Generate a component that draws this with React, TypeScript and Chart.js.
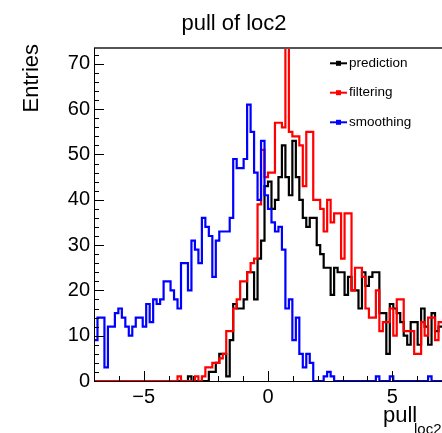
import { useEffect, useRef } from "react";
import { Chart, registerables } from "chart.js";

Chart.register(...registerables);

// Histogram binning: 100 bins on [-7, 7]
const BIN_LO = -7;
const BIN_HI = 7;
const BIN_COUNT = 100;

// Bin contents, bin 0 at the left edge
const prediction = [
  0, 0, 0, 0, 0, 0, 0, 0, 0, 0,
  0, 0, 0, 0, 0, 0, 0, 0, 0, 0,
  0, 0, 0, 0, 0, 0, 0, 1, 0, 0,
  0, 0, 0, 2, 2, 4, 6, 6, 1, 9,
  17, 16, 16, 18, 24, 24, 18, 27, 31, 43,
  44, 38, 40, 45, 52, 45, 41, 53, 45, 40,
  36, 34, 36, 36, 30, 28, 25, 25, 19, 25,
  24, 24, 19, 23, 20, 20, 16, 24, 21, 23,
  24, 24, 15, 15, 6, 17, 16, 15, 13, 10,
  8, 13, 13, 8, 16, 12, 8, 15, 11, 12,
];

const filtering = [
  0, 0, 0, 0, 0, 0, 0, 0, 0, 0,
  0, 0, 0, 0, 0, 0, 0, 0, 0, 0,
  0, 0, 0, 0, 1, 0, 0, 0, 0, 1,
  0, 1, 3, 3, 4, 4, 5, 6, 11, 11,
  16, 18, 22, 22, 24, 26, 27, 39, 51, 45,
  46, 46, 57, 57, 56, 76, 55, 54, 54, 52,
  43, 55, 55, 40, 40, 38, 33, 40, 35, 37,
  37, 27, 37, 37, 20, 25, 25, 23, 16, 14,
  14, 20, 11, 13, 13, 16, 10, 18, 18, 11,
  11, 11, 6, 6, 13, 10, 14, 14, 9, 13,
];

const smoothing = [
  9, 14, 14, 3, 12, 12, 15, 16, 14, 12,
  10, 12, 14, 14, 12, 17, 13, 18, 17, 18,
  22, 22, 20, 18, 16, 26, 26, 20, 31, 29,
  26, 36, 34, 32, 23, 31, 33, 33, 33, 36,
  49, 47, 47, 49, 61, 55, 46, 40, 53, 41,
  38, 35, 33, 34, 29, 16, 18, 9, 14, 6,
  3, 6, 4, 0, 0, 0, 1, 2, 1, 0,
  0, 0, 0, 0, 0, 0, 0, 0, 0, 0,
  0, 1, 0, 0, 0, 1, 0, 0, 0, 0,
  0, 0, 0, 0, 0, 0, 1, 0, 0, 0,
];

const seriesNames = ["prediction", "filtering", "smoothing"];
const seriesColors = ["#000000", "#ff0000", "#0000ff"];
const seriesValues = [prediction, filtering, smoothing];

const titleText = "pull of loc2";
const yTitleText = "Entries";
const xTitleText = "pull";
const xTitleSub = "loc2";

const Y_MAX = 73.5;
const FONT = '"Liberation Sans", Arial, Helvetica, sans-serif';

// Step outline points at the bin edges (last content repeated at the upper edge)
function histPoints(values: number[]) {
  const w = (BIN_HI - BIN_LO) / BIN_COUNT;
  const pts = values.map((v, k) => ({ x: BIN_LO + k * w, y: v }));
  pts.push({ x: BIN_HI, y: values[values.length - 1] });
  return pts;
}

// ROOT-like frame: inward ticks, titles and the legend box
const rootDecor = {
  id: "rootDecor",
  afterDatasetsDraw(chart: any) {
    const { ctx, chartArea: a, scales } = chart;
    const xs = scales.x;
    const ys = scales.y;
    ctx.save();

    ctx.strokeStyle = "#555555";
    ctx.lineWidth = 2;
    ctx.beginPath();
    ctx.moveTo(a.left, a.top);
    ctx.lineTo(a.right, a.top);
    ctx.stroke();

    ctx.strokeStyle = "#000000";
    ctx.lineWidth = 1;
    ctx.beginPath();
    ctx.moveTo(a.left + 0.5, a.top);
    ctx.lineTo(a.left + 0.5, a.bottom);
    ctx.moveTo(a.left, a.bottom + 0.5);
    ctx.lineTo(a.right, a.bottom + 0.5);
    for (let v = 0; v <= Y_MAX; v += 2) {
      const py = Math.round(ys.getPixelForValue(v)) + 0.5;
      const len = v % 10 === 0 ? 10 : 5;
      ctx.moveTo(a.left, py);
      ctx.lineTo(a.left + len, py);
    }
    for (let v = Math.ceil(BIN_LO); v <= BIN_HI; v += 1) {
      const px = Math.round(xs.getPixelForValue(v)) + 0.5;
      const len = v % 5 === 0 ? 10 : 5;
      ctx.moveTo(px, a.bottom);
      ctx.lineTo(px, a.bottom - len);
    }
    ctx.stroke();
    ctx.restore();
  },
  afterDraw(chart: any) {
    const { ctx } = chart;
    ctx.save();
    ctx.fillStyle = "#000000";

    ctx.font = `22px ${FONT}`;
    ctx.textAlign = "center";
    ctx.textBaseline = "alphabetic";
    ctx.fillText(titleText, 234, 29.5);

    ctx.save();
    ctx.translate(38, 44);
    ctx.rotate(-Math.PI / 2);
    ctx.textAlign = "right";
    ctx.font = `22px ${FONT}`;
    ctx.fillText(yTitleText, 0, 0);
    ctx.restore();

    ctx.textAlign = "left";
    ctx.font = `22px ${FONT}`;
    ctx.fillText(xTitleText, 383, 422);
    ctx.font = `15px ${FONT}`;
    ctx.fillText(xTitleSub, 414, 433.5);

    const rows = [63.3, 92.7, 122.3];
    seriesNames.forEach((name, i) => {
      const yy = rows[i];
      ctx.strokeStyle = seriesColors[i];
      ctx.fillStyle = seriesColors[i];
      ctx.lineWidth = 2;
      ctx.beginPath();
      ctx.moveTo(330, yy);
      ctx.lineTo(347, yy);
      ctx.stroke();
      ctx.fillRect(336, yy - 2.5, 5, 5);
      ctx.fillStyle = "#000000";
      ctx.font = `13.5px ${FONT}`;
      ctx.textBaseline = "middle";
      ctx.fillText(name, 349, yy);
      ctx.textBaseline = "alphabetic";
    });
    ctx.restore();
  },
};

export default function App() {
  const canvasRef = useRef<HTMLCanvasElement | null>(null);

  useEffect(() => {
    const canvas = canvasRef.current;
    if (!canvas) return;
    const chart = new Chart(canvas, {
      type: "line",
      data: {
        datasets: seriesValues.map((vals, i) => ({
          label: seriesNames[i],
          data: histPoints(vals),
          borderColor: seriesColors[i],
          backgroundColor: seriesColors[i],
          borderWidth: 2.2,
          pointRadius: 0,
          stepped: "before" as const,
          tension: 0,
          fill: false,
          order: seriesValues.length - i,
        })),
      },
      options: {
        animation: false,
        responsive: false,
        maintainAspectRatio: false,
        events: [],
        layout: { padding: { top: 48, left: 0, right: 0, bottom: 0 } },
        plugins: {
          legend: { display: false },
          tooltip: { enabled: false },
          title: { display: false },
        },
        scales: {
          x: {
            type: "linear",
            min: BIN_LO,
            max: BIN_HI,
            grid: { display: false, drawTicks: false },
            border: { display: false },
            afterFit: (s: any) => {
              s.height = 52;
            },
            ticks: {
              stepSize: 5,
              includeBounds: false,
              maxRotation: 0,
              autoSkip: false,
              padding: 4,
              color: "#000000",
              font: { family: FONT, size: 20 },
              callback: (v: any) => String(v).replace("-", "\u2212"),
            },
          },
          y: {
            type: "linear",
            min: 0,
            max: Y_MAX,
            grid: { display: false, drawTicks: false },
            border: { display: false },
            afterFit: (s: any) => {
              s.width = 94;
            },
            ticks: {
              stepSize: 10,
              includeBounds: false,
              padding: 4,
              color: "#000000",
              font: { family: FONT, size: 20 },
            },
          },
        },
      },
      plugins: [rootDecor],
    });
    return () => chart.destroy();
  }, []);

  return (
    <div style={{ position: "fixed", left: 0, top: 0, width: 442, height: 433, background: "#ffffff" }}>
      <canvas ref={canvasRef} width={442} height={433} style={{ display: "block" }} />
    </div>
  );
}
